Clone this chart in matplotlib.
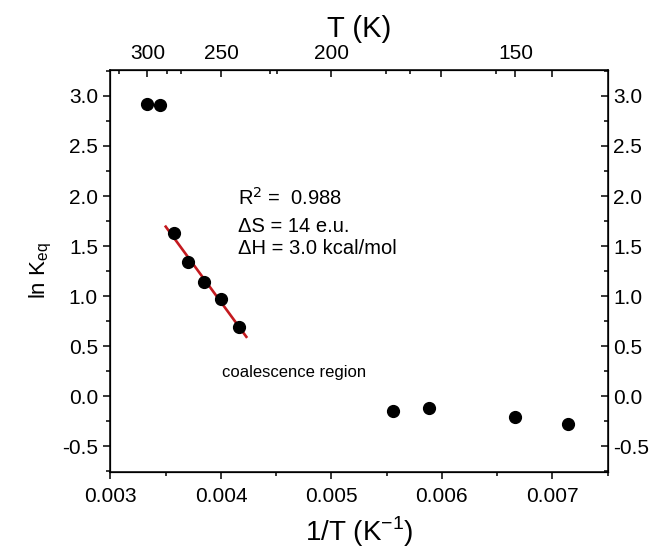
import numpy as np
import matplotlib
matplotlib.use("Agg")
import matplotlib.pyplot as plt
from matplotlib.ticker import MultipleLocator, FixedLocator, NullFormatter

plt.rcParams['font.family'] = ['Liberation Sans', 'DejaVu Sans']
plt.rcParams['axes.unicode_minus'] = False

# measured temperatures (K) and ln Keq
temps = [300, 290, 280, 270, 260, 250, 240, 180, 170, 150, 140]
ln_keq = [2.92, 2.91, 1.63, 1.34, 1.14, 0.97, 0.69, -0.15, -0.12, -0.21, -0.28]

# points used for the van't Hoff fit
fit_temps = [280, 270, 260, 250, 240]
fit_ln_keq = [1.63, 1.34, 1.14, 0.97, 0.69]
fit_span = [0.0035, 0.00423]

# top axis (temperature) ticks
top_major_T = [300, 250, 200, 167, 150, 143]
top_major_labels = ['300', '250', '200', '', '150', '']
top_minor_T = [325, 285, 275, 225, 222, 182, 175, 154]

inv_t = [1.0 / t for t in temps]
fit_x = [1.0 / t for t in fit_temps]

fig = plt.figure(figsize=(6.55, 5.52), dpi=100)
ax = fig.add_axes([0.1687, 0.1449, 0.7588, 0.7283])

ax.plot(inv_t, ln_keq, 'o', color='black', markersize=8.5, zorder=3)
slope, icpt = np.polyfit(fit_x, fit_ln_keq, 1)
xs = np.array(fit_span)
ax.plot(xs, slope * xs + icpt, color='#c41a1f', lw=1.9, zorder=2)

ax.set_xlim(0.003, 0.0075)
ax.set_ylim(-0.76, 3.26)
ax.xaxis.set_major_locator(MultipleLocator(0.001))
ax.xaxis.set_minor_locator(MultipleLocator(0.0005))
ax.yaxis.set_major_locator(MultipleLocator(0.5))
ax.yaxis.set_minor_locator(MultipleLocator(0.25))
ax.xaxis.set_major_formatter(plt.FuncFormatter(lambda v, p: f'{v:.3f}'))
ax.yaxis.set_major_formatter(plt.FuncFormatter(lambda v, p: f'{v:.1f}'))
ax.tick_params(which='both', direction='out', width=1.1, labelsize=15)
ax.tick_params(which='major', length=5)
ax.tick_params(which='minor', length=3)
ax.tick_params(axis='x', pad=6)
ax.tick_params(axis='y', pad=4)
for s in ax.spines.values():
    s.set_linewidth(1.1)

ax.set_xlabel('1/T (K$^{\\mathregular{-1}}$)', fontsize=20, labelpad=6)
ax.set_ylabel('ln K$_{\\mathregular{eq}}$', fontsize=16, labelpad=6)

# right axis
ax_r = ax.twinx()
ax_r.set_ylim(ax.get_ylim())
ax_r.yaxis.set_major_locator(MultipleLocator(0.5))
ax_r.yaxis.set_minor_locator(MultipleLocator(0.25))
ax_r.yaxis.set_major_formatter(plt.FuncFormatter(lambda v, p: f'{v:.1f}'))
ax_r.tick_params(which='both', direction='in', width=1.1, labelsize=15, pad=4)
ax_r.tick_params(which='major', length=5)
ax_r.tick_params(which='minor', length=3)

# top axis in temperature
ax_t = ax.twiny()
ax_t.set_xlim(ax.get_xlim())
ax_t.xaxis.set_major_locator(FixedLocator([1.0 / t for t in top_major_T]))
ax_t.set_xticklabels(top_major_labels)
ax_t.xaxis.set_minor_locator(FixedLocator([1.0 / t for t in top_minor_T]))
ax_t.xaxis.set_minor_formatter(NullFormatter())
ax_t.tick_params(which='both', direction='in', width=1.1, labelsize=15, pad=5)
ax_t.tick_params(which='major', length=5)
ax_t.tick_params(which='minor', length=3)
ax_t.set_xlabel('T (K)', fontsize=21, labelpad=5)

ax.text(0.00415, 1.98, 'R$^2$ =  0.988', fontsize=14.5, va='center')
ax.text(0.00415, 1.70, '\u0394S = 14 e.u.', fontsize=14.5, va='center')
ax.text(0.00415, 1.48, '\u0394H = 3.0 kcal/mol', fontsize=14.5, va='center')
ax.text(0.00401, 0.24, 'coalescence region', fontsize=12, va='center')

fig.savefig('out.png', dpi=100)
